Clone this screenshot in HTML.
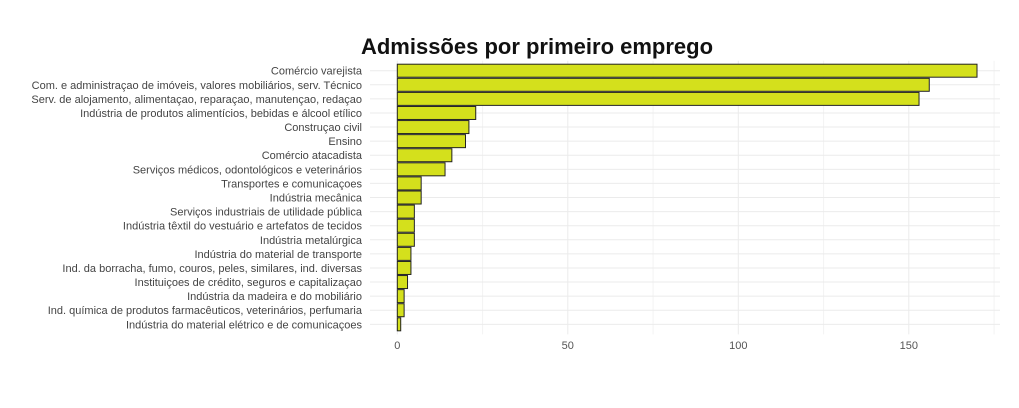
<!DOCTYPE html>
<html><head><meta charset="utf-8"><style>
body{margin:0;background:#fff;}
svg{display:block;font-family:"Liberation Sans",Arial,sans-serif;}
</style></head><body>
<svg id="chart" width="1019" height="408">
<text x="537" y="54" text-anchor="middle" font-size="22" font-weight="bold" fill="#111">Admissões por primeiro emprego</text>
<g id="grid"></g><g id="bars"></g><g id="labels"></g><g id="ticks"></g>
</svg>
<script>
const categories=["Comércio varejista","Com. e administraçao de imóveis, valores mobiliários, serv. Técnico","Serv. de alojamento, alimentaçao, reparaçao, manutençao, redaçao","Indústria de produtos alimentícios, bebidas e álcool etílico","Construçao civil","Ensino","Comércio atacadista","Serviços médicos, odontológicos e veterinários","Transportes e comunicaçoes","Indústria mecânica","Serviços industriais de utilidade pública","Indústria têxtil do vestuário e artefatos de tecidos","Indústria metalúrgica","Indústria do material de transporte","Ind. da borracha, fumo, couros, peles, similares, ind. diversas","Instituiçoes de crédito, seguros e capitalizaçao","Indústria da madeira e do mobiliário","Ind. química de produtos farmacêuticos, veterinários, perfumaria","Indústria do material elétrico e de comunicaçoes"];
const values=[170,156,153,23,21,20,16,14,7,7,5,5,5,4,4,3,2,2,1];
const tickValues=[0,50,100,150];
const tickLabels=["0","50","100","150"];
const NS="http://www.w3.org/2000/svg";
const x0=397.3,ppu=3.41,y0=70.7,step=14.09,bh=13,xRight=1000;
const xs=v=>x0+v*ppu, ys=i=>y0+i*step;
function mk(t,a,p){const e=document.createElementNS(NS,t);for(const k in a)e.setAttribute(k,a[k]);document.getElementById(p).appendChild(e);return e;}
const yTop=ys(0)-10,yBot=ys(categories.length-1)+10;
for(let v=25;v<=175;v+=50){const g=mk('line',{x1:xs(v),x2:xs(v),y1:yTop,y2:yBot,stroke:'#f3f3f3','stroke-width':1},'grid');

}
tickValues.forEach((v,i)=>{const g=mk('line',{x1:xs(v),x2:xs(v),y1:yTop,y2:yBot,stroke:'#ebebeb','stroke-width':1},'grid');


const t=mk('text',{x:xs(v),y:349,'text-anchor':'middle','font-size':11,fill:'#555'},'ticks');t.textContent=tickLabels[i];

});
categories.forEach((c,i)=>{const y=ys(i);
const g=mk('line',{x1:370,x2:xRight,y1:y,y2:y,stroke:'#ebebeb','stroke-width':1},'grid');


const b=mk('rect',{x:xs(0),y:y-bh/2,width:xs(values[i])-xs(0),height:bh,fill:'#d4e01c',stroke:'#222','stroke-width':1},'bars');


const t=mk('text',{x:362,y:y+4,'text-anchor':'end','font-size':11,fill:'#444'},'labels');t.textContent=c;

});
</script>
</body></html>
